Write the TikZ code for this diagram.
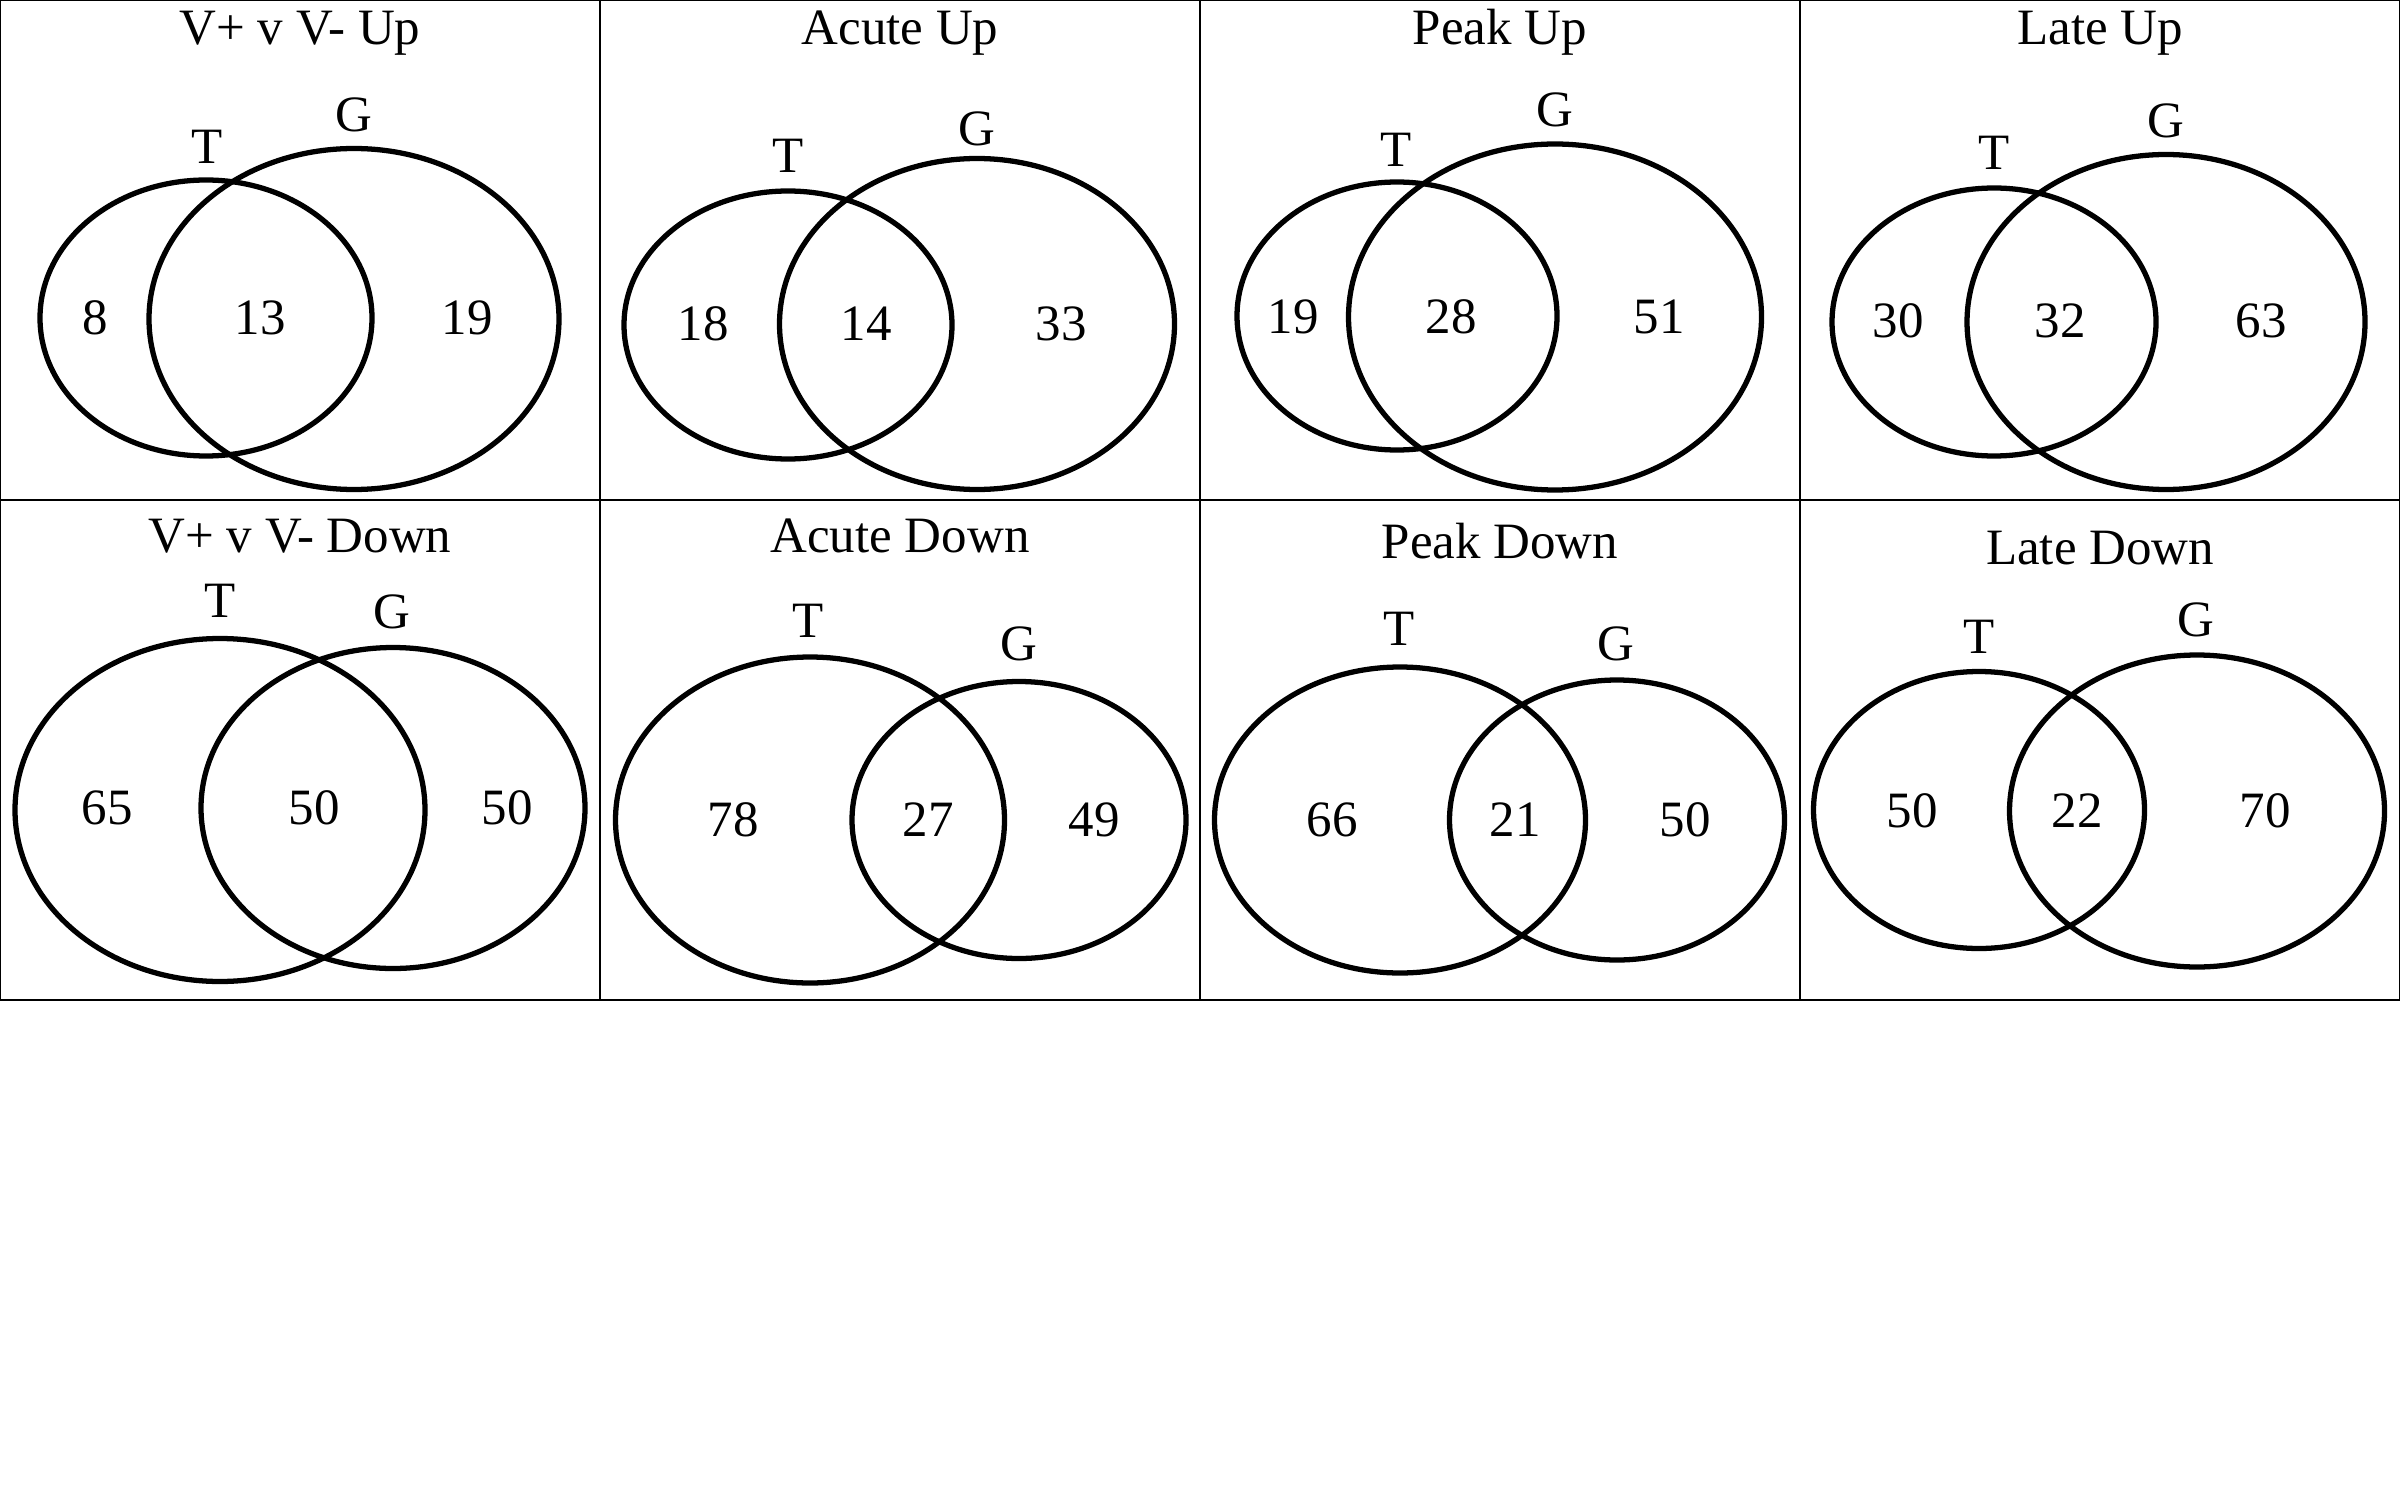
\documentclass[tikz,border=0pt]{standalone}
\usepackage{fontspec}
\setmainfont{Liberation Serif}
\usetikzlibrary{shapes.geometric}

\begin{document}
\begin{tikzpicture}[font=\fontsize{14.5}{17}\selectfont]
\tikzstyle{panel}=[draw,line width=0.6pt,minimum width=6cm,minimum height=5cm,inner sep=0pt]
\tikzstyle{set}=[draw,ellipse,line width=1.5pt,inner sep=0pt]
\tikzstyle{lbl}=[inner sep=0pt,text height=9.6pt,text depth=0pt]
\useasboundingbox (0,0) rectangle (24,15);
% frames
\node[panel] (p1) at (3,12.5) {}; \node[panel] (p2) at (9,12.5) {}; \node[panel] (p3) at (15,12.5) {}; \node[panel] (p4) at (21,12.5) {};
\node[panel] (p5) at (3,7.5) {}; \node[panel] (p6) at (9,7.5) {}; \node[panel] (p7) at (15,7.5) {}; \node[panel] (p8) at (21,7.5) {};
% V+ v V- Up
\node[lbl] (ti1) at (3,14.72) {V+ v V- Up};
\node[set,minimum width=3.32cm,minimum height=2.76cm] (t1) at (2.06,11.82) {};
\node[set,minimum width=4.10cm,minimum height=3.41cm] (g1) at (3.54,11.81) {};
\node[lbl] (tl1) at (2.07,13.53) {T}; \node[lbl] (gl1) at (3.54,13.85) {G};
\node[lbl] (a1) at (0.95,11.82) {8}; \node[lbl] (b1) at (2.60,11.82) {13}; \node[lbl] (c1) at (4.67,11.82) {19};
% Acute Up
\node[lbl] (ti2) at (9,14.72) {Acute Up};
\node[set,minimum width=3.28cm,minimum height=2.68cm] (t2) at (7.88,11.75) {};
\node[set,minimum width=3.95cm,minimum height=3.31cm] (g2) at (9.77,11.76) {};
\node[lbl] (tl2) at (7.88,13.44) {T}; \node[lbl] (gl2) at (9.77,13.71) {G};
\node[lbl] (a2) at (7.03,11.76) {18}; \node[lbl] (b2) at (8.66,11.76) {14}; \node[lbl] (c2) at (10.61,11.76) {33};
% Peak Up
\node[lbl] (ti3) at (15,14.72) {Peak Up};
\node[set,minimum width=3.20cm,minimum height=2.68cm] (t3) at (13.97,11.84) {};
\node[set,minimum width=4.13cm,minimum height=3.46cm] (g3) at (15.55,11.83) {};
\node[lbl] (tl3) at (13.96,13.50) {T}; \node[lbl] (gl3) at (15.55,13.90) {G};
\node[lbl] (a3) at (12.93,11.83) {19}; \node[lbl] (b3) at (14.51,11.83) {28}; \node[lbl] (c3) at (16.59,11.83) {51};
% Late Up
\node[lbl] (ti4) at (21,14.72) {Late Up};
\node[set,minimum width=3.24cm,minimum height=2.68cm] (t4) at (19.94,11.78) {};
\node[set,minimum width=3.98cm,minimum height=3.35cm] (g4) at (21.66,11.78) {};
\node[lbl] (tl4) at (19.94,13.47) {T}; \node[lbl] (gl4) at (21.66,13.79) {G};
\node[lbl] (a4) at (18.98,11.79) {30}; \node[lbl] (b4) at (20.60,11.79) {32}; \node[lbl] (c4) at (22.61,11.79) {63};
% V+ v V- Down
\node[lbl] (ti5) at (3,9.64) {V+ v V- Down};
\node[set,minimum width=4.10cm,minimum height=3.43cm] (t5) at (2.20,6.90) {};
\node[set,minimum width=3.84cm,minimum height=3.21cm] (g5) at (3.93,6.92) {};
\node[lbl] (tl5) at (2.20,8.99) {T}; \node[lbl] (gl5) at (3.92,8.88) {G};
\node[lbl] (a5) at (1.07,6.92) {65}; \node[lbl] (b5) at (3.14,6.92) {50}; \node[lbl] (c5) at (5.07,6.92) {50};
% Acute Down
\node[lbl] (ti6) at (9,9.64) {Acute Down};
\node[set,minimum width=3.89cm,minimum height=3.26cm] (t6) at (8.10,6.80) {};
\node[set,minimum width=3.34cm,minimum height=2.77cm] (g6) at (10.19,6.80) {};
\node[lbl] (tl6) at (8.08,8.79) {T}; \node[lbl] (gl6) at (10.19,8.56) {G};
\node[lbl] (a6) at (7.33,6.80) {78}; \node[lbl] (b6) at (9.28,6.80) {27}; \node[lbl] (c6) at (10.94,6.80) {49};
% Peak Down
\node[lbl] (ti7) at (15,9.58) {Peak Down};
\node[set,minimum width=3.71cm,minimum height=3.06cm] (t7) at (14.00,6.80) {};
\node[set,minimum width=3.35cm,minimum height=2.80cm] (g7) at (16.17,6.80) {};
\node[lbl] (tl7) at (13.99,8.71) {T}; \node[lbl] (gl7) at (16.16,8.56) {G};
\node[lbl] (a7) at (13.32,6.80) {66}; \node[lbl] (b7) at (15.15,6.80) {21}; \node[lbl] (c7) at (16.85,6.80) {50};
% Late Down
\node[lbl] (ti8) at (21,9.52) {Late Down};
\node[set,minimum width=3.31cm,minimum height=2.77cm] (t8) at (19.79,6.90) {};
\node[set,minimum width=3.75cm,minimum height=3.12cm] (g8) at (21.97,6.89) {};
\node[lbl] (tl8) at (19.79,8.63) {T}; \node[lbl] (gl8) at (21.96,8.80) {G};
\node[lbl] (a8) at (19.12,6.89) {50}; \node[lbl] (b8) at (20.77,6.89) {22}; \node[lbl] (c8) at (22.65,6.89) {70};
\end{tikzpicture}
\end{document}
